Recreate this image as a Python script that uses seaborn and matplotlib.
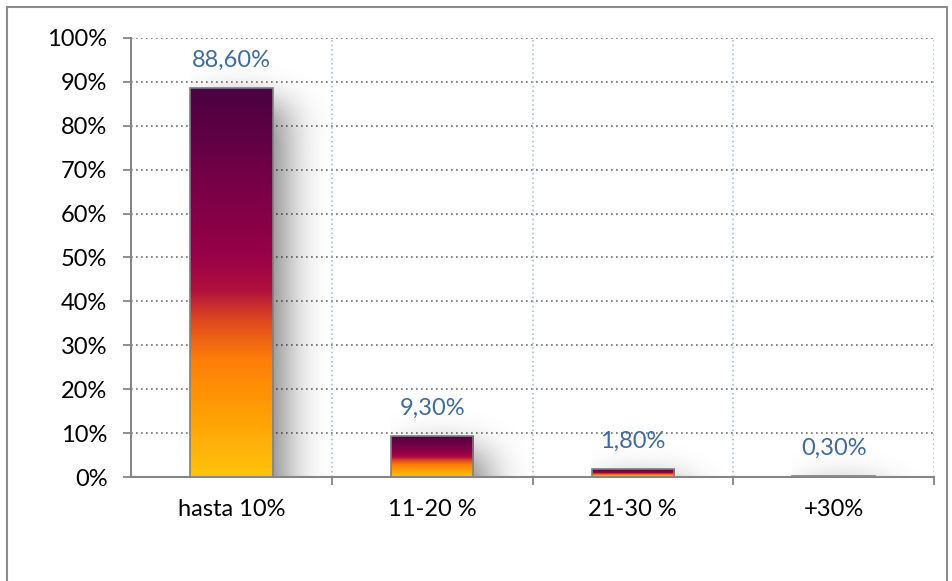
import math
import numpy as np
import pandas as pd
import matplotlib
matplotlib.use("Agg")
import matplotlib.pyplot as plt
from matplotlib.colors import LinearSegmentedColormap
from matplotlib.patches import Rectangle
import seaborn as sns

categories = ["hasta 10%", "11-20 %", "21-30 %", "+30%"]
values = [88.6, 9.3, 1.8, 0.3]
value_labels = ["88,60%", "9,30%", "1,80%", "0,30%"]
yticks = [0, 10, 20, 30, 40, 50, 60, 70, 80, 90, 100]
ytick_labels = ["0%", "10%", "20%", "30%", "40%", "50%", "60%", "70%", "80%", "90%", "100%"]

sns.set_theme(style="white")
plt.rcParams["font.family"] = ["Lato", "DejaVu Sans"]

fig = plt.figure(figsize=(9.52, 5.81), dpi=100)
ax = fig.add_axes([131 / 952, 1 - 477 / 581, (934 - 131) / 952, (477 - 38) / 581])

df = pd.DataFrame({"cat": categories, "val": values})
sns.barplot(data=df, x="cat", y="val", ax=ax, width=0.41, color="white",
            edgecolor="#808080", linewidth=1.2, zorder=3)

cmap = LinearSegmentedColormap.from_list("grad", [
    (0.0, "#FFC40C"),
    (0.18, "#FF9A05"),
    (0.30, "#FF7E08"),
    (0.40, "#E04A20"),
    (0.48, "#B0103E"),
    (0.58, "#950048"),
    (0.78, "#720046"),
    (1.0, "#4A0042"),
])

verf = np.frompyfunc(math.erf, 1, 1)


def box_blur(t, a, b, s):
    return 0.5 * (verf((t - a) / (s * math.sqrt(2))).astype(float)
                  - verf((t - b) / (s * math.sqrt(2))).astype(float))


grad = np.linspace(0, 1, 256).reshape(-1, 1)
for patch in ax.patches:
    x0 = patch.get_x()
    w = patch.get_width()
    h = patch.get_height()
    x1 = x0 + w
    # shadow
    xs = np.linspace(x0, x1 + 0.5, 220)
    ys = np.linspace(0, max(h, 0.5) + 14, 260)
    sx = box_blur(xs, x0 + 0.05, x1 + 0.05, 0.11)
    sy = box_blur(ys, -20, h - 3.5, 4.0)
    alpha = 0.58 * np.outer(sy, sx)
    rgba = np.zeros((len(ys), len(xs), 4))
    rgba[..., 3] = alpha
    ax.imshow(rgba, extent=[xs[0], xs[-1], ys[0], ys[-1]], origin="lower",
              aspect="auto", zorder=1, interpolation="bilinear")
    # gradient fill
    if h > 0:
        im = ax.imshow(grad, extent=[x0, x1, 0, h], origin="lower", cmap=cmap,
                       aspect="auto", zorder=2, interpolation="bilinear")
        im.set_clip_path(patch)
    patch.set_facecolor("none")

for patch, lab in zip(ax.patches, value_labels):
    cx = patch.get_x() + patch.get_width() / 2
    ax.annotate(lab, (cx, patch.get_height()), xytext=(0, 20), textcoords="offset points",
                ha="center", va="center", fontsize=17, color="#3E6A9E")

ax.set_xlim(-0.5, 3.5)
ax.set_ylim(0, 100)
ax.set_yticks(yticks)
ax.set_yticklabels(ytick_labels)
ax.set_xticks(range(len(categories)))
ax.set_xticklabels(categories)
ax.set_xticks([0.5, 1.5, 2.5, 3.5], minor=True)
ax.set_xlabel("")
ax.set_ylabel("")

for y in yticks[1:]:
    ax.axhline(y, color="#6F6F6F", linewidth=1.2, linestyle=(0, (1, 2)), zorder=0.5)
for x in [0.5, 1.5, 2.5, 3.5]:
    ax.axvline(x, color="#9CB5E2", linewidth=1.1, linestyle=(0, (1, 2)), zorder=0.5)

for s in ["top", "right"]:
    ax.spines[s].set_visible(False)
for s in ["left", "bottom"]:
    ax.spines[s].set_color("#868686")
    ax.spines[s].set_linewidth(1.5)
    ax.spines[s].set_zorder(4)

ax.tick_params(axis="y", which="major", direction="out", length=6, width=1.3,
               color="#868686", pad=11, labelsize=17, labelcolor="black", left=True)
ax.tick_params(axis="x", which="major", length=0, pad=16, labelsize=17, labelcolor="black", bottom=True)
ax.tick_params(axis="x", which="minor", direction="out", length=6, width=1.3,
               color="#868686", bottom=True)

fig.patches.append(Rectangle((7 / 952, -0.05), 940 / 952, 1.05 - 7 / 581,
                             transform=fig.transFigure, fill=False,
                             edgecolor="#8C8C8C", linewidth=1.5))

fig.savefig("out.png", dpi=100, facecolor="white")
